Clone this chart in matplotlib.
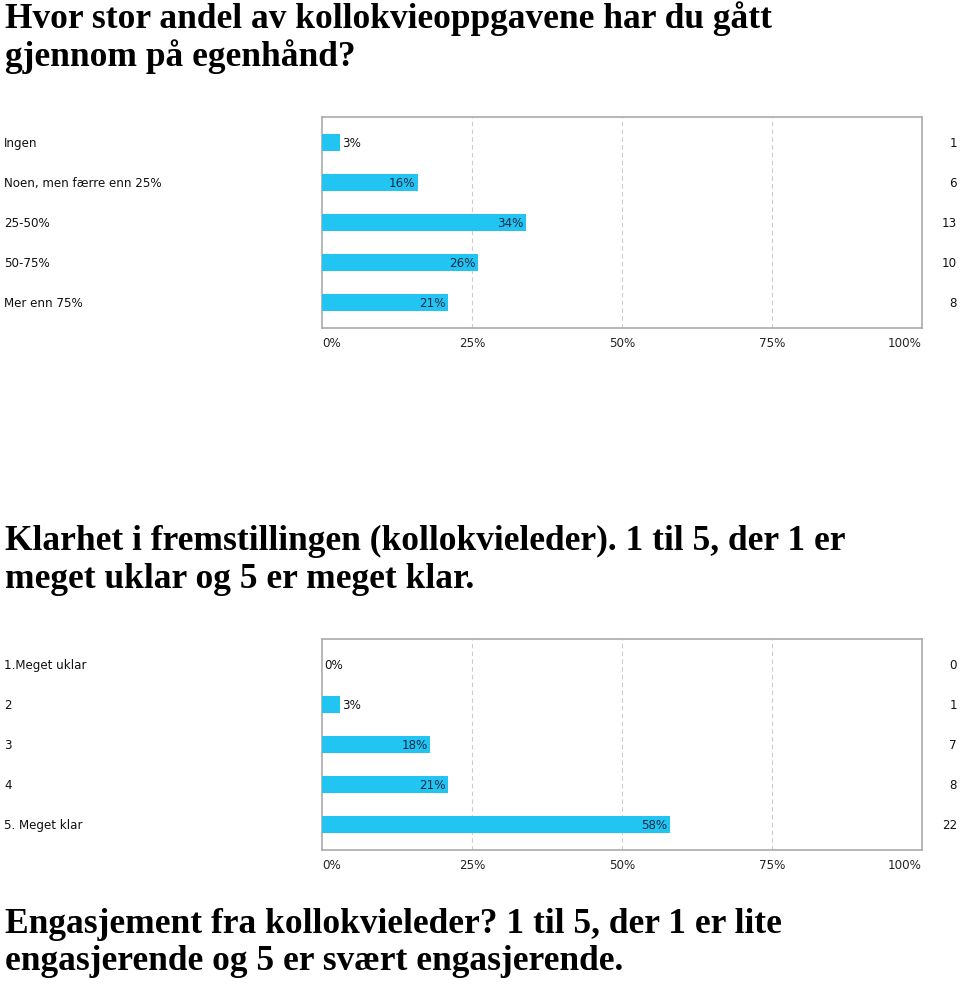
import matplotlib
matplotlib.use("Agg")
import matplotlib.pyplot as plt

W, H = 960, 987

title_lines = [
    "Hvor stor andel av kollokvieoppgavene har du gått",
    "gjennom på egenhånd?",
    "Klarhet i fremstillingen (kollokvieleder). 1 til 5, der 1 er",
    "meget uklar og 5 er meget klar.",
    "Engasjement fra kollokvieleder? 1 til 5, der 1 er lite",
    "engasjerende og 5 er svært engasjerende.",
]
title_baselines = [28, 66, 550, 588, 933, 970]

q1_labels = ["Ingen", "Noen, men færre enn 25%", "25-50%", "50-75%", "Mer enn 75%"]
q1_pct = [3, 16, 34, 26, 21]
q1_count = [1, 6, 13, 10, 8]

q2_labels = ["1.Meget uklar", "2", "3", "4", "5. Meget klar"]
q2_pct = [0, 3, 18, 21, 58]
q2_count = [0, 1, 7, 8, 22]

xticks = [0, 25, 50, 75, 100]

BAR = "#22c4f2"
LABEL_FONT = "DejaVu Sans"
FS = 8.6

fig = plt.figure(figsize=(W / 100, H / 100), dpi=100)


def px_axes(left, top, right, bottom):
    return fig.add_axes([left / W, 1 - bottom / H, (right - left) / W, (bottom - top) / H])


def bar_chart(ax, labels, pct, counts):
    n = len(labels)
    y = list(range(n))
    ax.barh(y, pct, height=0.43, color=BAR, zorder=3)
    ax.set_xlim(0, 100)
    ax.set_ylim(n - 1 + 0.65, -0.65)
    ax.set_yticks([])
    ax.set_xticks(xticks)
    ax.set_xticklabels([f"{t}%" for t in xticks], fontsize=FS, family=LABEL_FONT, color="#222")
    ax.get_xticklabels()[0].set_ha("left")
    ax.get_xticklabels()[-1].set_ha("right")
    ax.tick_params(axis="x", length=0, pad=6)
    for t in xticks[1:-1]:
        ax.axvline(t, color="#cccccc", lw=0.8, ls=(0, (4, 3)), zorder=1)
    for s in ax.spines.values():
        s.set_color("#aaaaaa")
        s.set_linewidth(1.2)
    for yi, lab, p, c in zip(y, labels, pct, counts):
        ax.annotate(lab, xy=(0, yi), xycoords=("figure fraction", "data"),
                    xytext=(4, 0), textcoords="offset pixels",
                    ha="left", va="center", fontsize=FS, family=LABEL_FONT, color="#111")
        ax.annotate(str(c), xy=(1, yi), xycoords=("figure fraction", "data"),
                    xytext=(-3, 0), textcoords="offset pixels",
                    ha="right", va="center", fontsize=FS, family=LABEL_FONT, color="#111")
        if p >= 10:
            ax.text(p - 0.4, yi, f"{p}%", ha="right", va="center", fontsize=FS,
                    family=LABEL_FONT, color="#1a2a44", zorder=4)
        else:
            ax.text(p + 0.4, yi, f"{p}%", ha="left", va="center", fontsize=FS,
                    family=LABEL_FONT, color="#111", zorder=4)


ax1 = px_axes(322, 118, 922, 329)
bar_chart(ax1, q1_labels, q1_pct, q1_count)

ax2 = px_axes(322, 640, 922, 851)
bar_chart(ax2, q2_labels, q2_pct, q2_count)

for line, base in zip(title_lines, title_baselines):
    fig.text(5 / W, 1 - base / H, line, ha="left", va="baseline", fontsize=25.5,
             family="Liberation Serif", weight="bold")

fig.savefig("out.png", dpi=100, facecolor="white")
